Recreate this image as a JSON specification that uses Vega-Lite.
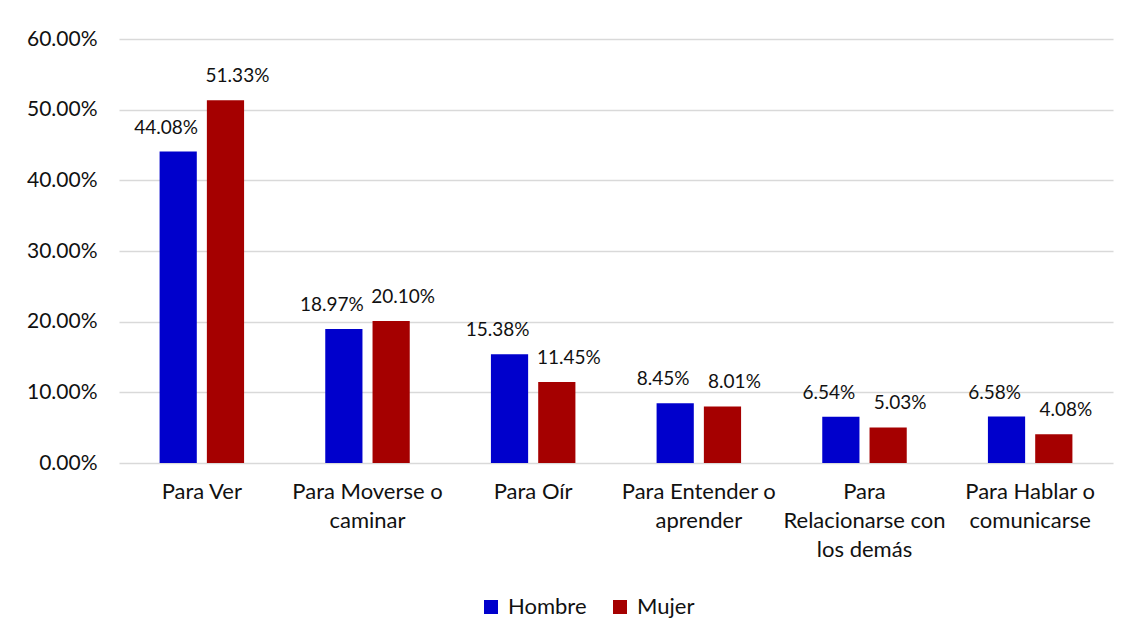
{
  "$schema": "https://vega.github.io/schema/vega-lite/v6.json",
  "width": 994,
  "height": 424,
  "padding": {"left": 26, "top": 28, "right": 17, "bottom": 5},
  "background": "white",
  "config": {
    "font": "Lato",
    "view": {"stroke": null},
    "axis": {"labelFont": "Lato", "labelColor": "#111111"}
  },
  "data": {
    "values": [
      {"categoria": "Para Ver", "sexo": "Hombre", "valor": 0.4408},
      {"categoria": "Para Ver", "sexo": "Mujer", "valor": 0.5133},
      {"categoria": "Para Moverse o caminar", "sexo": "Hombre", "valor": 0.1897},
      {"categoria": "Para Moverse o caminar", "sexo": "Mujer", "valor": 0.2010},
      {"categoria": "Para Oír", "sexo": "Hombre", "valor": 0.1538},
      {"categoria": "Para Oír", "sexo": "Mujer", "valor": 0.1145},
      {"categoria": "Para Entender o aprender", "sexo": "Hombre", "valor": 0.0845},
      {"categoria": "Para Entender o aprender", "sexo": "Mujer", "valor": 0.0801},
      {"categoria": "Para Relacionarse con los demás", "sexo": "Hombre", "valor": 0.0654},
      {"categoria": "Para Relacionarse con los demás", "sexo": "Mujer", "valor": 0.0503},
      {"categoria": "Para Hablar o comunicarse", "sexo": "Hombre", "valor": 0.0658},
      {"categoria": "Para Hablar o comunicarse", "sexo": "Mujer", "valor": 0.0408}
    ]
  },
  "encoding": {
    "x": {
      "field": "categoria",
      "type": "nominal",
      "sort": null,
      "scale": {"paddingInner": 0.49, "paddingOuter": 0.245},
      "axis": {
        "title": null,
        "labelAngle": 0,
        "domain": false,
        "ticks": false,
        "labelPadding": 18,
        "labelFontSize": 22,
        "labelLineHeight": 29,
        "labelExpr": "datum.value == 'Para Moverse o caminar' ? ['Para Moverse o', 'caminar'] : datum.value == 'Para Entender o aprender' ? ['Para Entender o', 'aprender'] : datum.value == 'Para Relacionarse con los demás' ? ['Para', 'Relacionarse con', 'los demás'] : datum.value == 'Para Hablar o comunicarse' ? ['Para Hablar o', 'comunicarse'] : datum.value"
      }
    },
    "xOffset": {"field": "sexo", "type": "nominal", "scale": {"paddingInner": 0.213, "paddingOuter": 0}},
    "y": {
      "field": "valor",
      "type": "quantitative",
      "scale": {"domain": [0, 0.6]},
      "axis": {
        "title": null,
        "format": ".2%",
        "values": [0, 0.1, 0.2, 0.3, 0.4, 0.5, 0.6],
        "labelOverlap": false,
        "labelFontSize": 21,
        "domain": false,
        "ticks": false,
        "labelPadding": 22,
        "gridColor": "#d9d9d9",
        "gridWidth": 1.5
      }
    }
  },
  "layer": [
    {
      "mark": {"type": "bar"},
      "encoding": {
        "color": {
          "field": "sexo",
          "type": "nominal",
          "scale": {"domain": ["Hombre", "Mujer"], "range": ["#0000cc", "#a50000"]},
          "legend": {
            "title": null,
            "orient": "none",
            "legendX": 361,
            "legendY": 557,
            "direction": "horizontal",
            "symbolType": "square",
            "symbolSize": 196,
            "symbolStrokeWidth": 0,
            "labelFontSize": 22,
            "labelFont": "Lato",
            "labelColor": "#111111",
            "labelOffset": 6,
            "columnPadding": 22,
            "padding": 0
          }
        }
      }
    },
    {
      "transform": [{"filter": "datum.sexo == 'Hombre'"}],
      "mark": {"type": "text", "baseline": "bottom", "dy": -14, "dx": -12, "fontSize": 19, "font": "Lato", "color": "#111111"},
      "encoding": {
        "text": {"field": "valor", "type": "quantitative", "format": ".2%"}
      }
    },
    {
      "transform": [{"filter": "datum.sexo == 'Mujer'"}],
      "mark": {"type": "text", "baseline": "bottom", "dy": -14, "dx": 12, "fontSize": 19, "font": "Lato", "color": "#111111"},
      "encoding": {
        "text": {"field": "valor", "type": "quantitative", "format": ".2%"}
      }
    }
  ]
}
